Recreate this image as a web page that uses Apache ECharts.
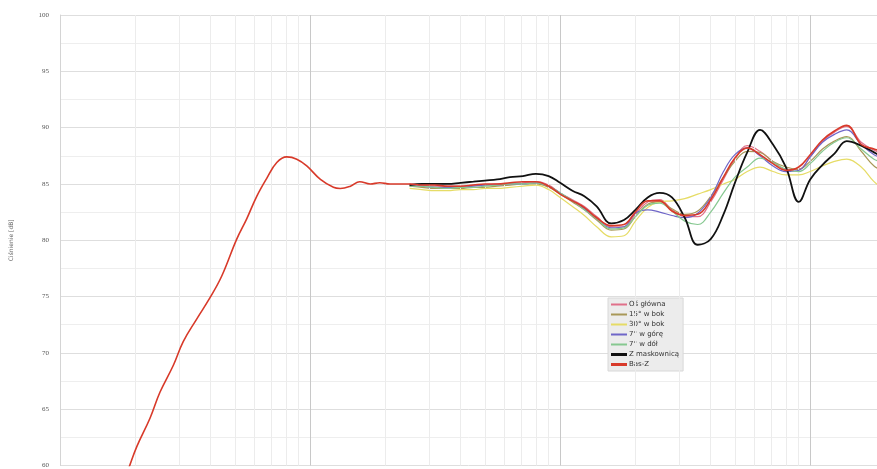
<!DOCTYPE html>
<html>
<head>
<meta charset="utf-8">
<script src="https://cdn.jsdelivr.net/npm/echarts@6/dist/echarts.min.js"></script>
<style>
  html, body { margin: 0; padding: 0; background: #ffffff; }
  #chart { width: 877px; height: 469px; }
</style>
</head>
<body>
<div id="chart"></div>
<script>
// Frequency response measurements (Hz -> dB SPL)

// Bass-extended response: near-field low end merged with the main axis
const bassFreq = [17, 19, 20.3, 22.9, 25.1, 28.4, 31.1, 35.2, 39.8, 44.3, 50.9, 55.8, 61.2, 67.1, 73.6, 80.7, 88.5, 97, 110, 124, 132, 145, 158, 174, 190, 209, 230];
const bassLow  = [57.0, 60.0, 61.7, 64.2, 66.5, 68.9, 71.0, 73.0, 74.9, 76.8, 80.1, 81.9, 83.9, 85.5, 86.9, 87.4, 87.2, 86.6, 85.4, 84.7, 84.6, 84.8, 85.2, 85.0, 85.1, 85.0, 85.0];

// Shared 1/6-octave grid for the gated measurements
const hiFreq = [250, 280, 315, 355, 400, 450, 500, 560, 630, 710, 800, 900, 1000, 1120, 1250, 1400, 1600, 1800, 2000, 2240, 2500, 2800, 3150, 3550, 4000, 4500, 5000, 5600, 6300, 7100, 8000, 9000, 10000, 11200, 12500, 14000, 16000, 18000, 20000];

const osGlowna   = [85.0, 84.9, 84.8, 84.8, 84.8, 84.9, 84.9, 85.0, 85.0, 85.1, 85.2, 84.9, 84.2, 83.6, 83.0, 82.1, 81.2, 81.2, 82.3, 83.4, 83.6, 82.7, 82.1, 82.1, 83.4, 85.4, 87.2, 88.4, 87.9, 87.0, 86.3, 86.3, 87.4, 88.8, 89.6, 90.1, 88.7, 88.0, 87.6];
const bok15      = [84.8, 84.7, 84.6, 84.6, 84.6, 84.7, 84.7, 84.8, 84.9, 85.0, 85.0, 84.7, 84.1, 83.4, 82.7, 81.8, 80.9, 81.0, 82.1, 83.2, 83.4, 82.8, 82.3, 82.6, 83.9, 85.6, 87.0, 87.9, 87.8, 87.0, 86.5, 86.3, 87.0, 88.1, 88.8, 89.2, 87.9, 86.6, 86.1];
const bok30      = [84.6, 84.5, 84.4, 84.4, 84.5, 84.5, 84.6, 84.6, 84.7, 84.8, 84.9, 84.5, 83.8, 83.0, 82.2, 81.2, 80.3, 80.4, 81.7, 82.9, 83.4, 83.5, 83.7, 84.1, 84.5, 85.0, 85.4, 86.1, 86.5, 86.1, 85.8, 85.8, 86.1, 86.6, 87.0, 87.2, 86.5, 85.2, 84.5];
const gora7      = [84.9, 84.8, 84.7, 84.7, 84.7, 84.8, 84.9, 84.9, 85.0, 85.0, 85.1, 84.8, 84.2, 83.5, 82.8, 81.9, 81.1, 81.2, 82.4, 82.7, 82.5, 82.2, 82.0, 82.4, 83.8, 86.1, 87.6, 88.2, 87.5, 86.6, 86.1, 86.2, 87.4, 88.7, 89.4, 89.8, 88.5, 87.6, 87.2];
const dol7       = [84.8, 84.8, 84.7, 84.6, 84.7, 84.7, 84.8, 84.9, 85.0, 85.0, 85.1, 84.8, 84.2, 83.5, 82.7, 81.9, 81.0, 81.1, 82.1, 83.1, 83.3, 82.6, 81.7, 81.4, 82.5, 84.2, 85.6, 86.5, 87.3, 86.9, 86.3, 86.1, 86.8, 87.9, 88.7, 89.1, 88.1, 87.2, 86.8];
const maskownica = [84.9, 85.0, 85.0, 85.0, 85.1, 85.2, 85.3, 85.4, 85.6, 85.7, 85.9, 85.7, 85.1, 84.4, 83.9, 83.0, 81.5, 81.8, 82.7, 83.8, 84.2, 83.8, 82.0, 79.6, 80.1, 82.3, 85.1, 87.8, 89.8, 88.5, 86.5, 83.4, 85.4, 86.7, 87.7, 88.8, 88.4, 87.8, 87.3];
const bassHigh   = [85.0, 84.9, 84.9, 84.8, 84.8, 84.9, 85.0, 85.0, 85.1, 85.2, 85.2, 84.8, 84.1, 83.5, 82.9, 82.0, 81.3, 81.4, 82.5, 83.5, 83.5, 82.6, 82.2, 82.3, 83.6, 85.6, 87.3, 88.2, 87.6, 86.8, 86.2, 86.5, 87.6, 88.9, 89.7, 90.2, 88.5, 88.1, 87.8];

const seriesNames = ['Oś główna', '15° w bok', '30° w bok', '7° w górę', '7° w dół', 'Z maskownicą', 'Bas-Z'];
const seriesColors = ['#e0708a', '#a89858', '#e6dc66', '#6f66c8', '#86c890', '#111111', '#d83a2a'];
const seriesWidths = [1.2, 1.2, 1.2, 1.2, 1.2, 1.8, 1.6];

// Gridline positions on the log frequency axis
const decadeFreq = [100, 1000, 10000];
const minorFreq = [20, 30, 40, 50, 60, 70, 80, 90, 200, 300, 400, 500, 600, 700, 800, 900, 2000, 3000, 4000, 5000, 6000, 7000, 8000, 9000];
const yTicks = { min: 60, max: 100, step: 5 };
const freqRange = { min: 10, max: 18500 };

function pairs(xs, ys) { return xs.map((f, i) => [f, ys[i]]); }

const bassCombined = pairs(bassFreq, bassLow).concat(pairs(hiFreq, bassHigh));
const seriesData = [
  pairs(hiFreq, osGlowna),
  pairs(hiFreq, bok15),
  pairs(hiFreq, bok30),
  pairs(hiFreq, gora7),
  pairs(hiFreq, dol7),
  pairs(hiFreq, maskownica),
  bassCombined
];

// Legend swatch: a plain horizontal bar, thicker for the heavy traces
function barIcon(h) {
  const top = (7 - h) / 2;
  return 'path://M0,' + top + 'L16,' + top + 'L16,' + (top + h) + 'L0,' + (top + h) + 'Z';
}

const chart = echarts.init(document.getElementById('chart'), null, { renderer: 'canvas' });

const series = [{
  name: 'grid',
  type: 'line',
  data: [],
  z: 1,
  silent: true,
  markLine: {
    silent: true,
    animation: false,
    symbol: ['none', 'none'],
    label: { show: false },
    data: minorFreq.map(f => ({ xAxis: f, lineStyle: { color: '#ececec', width: 1, type: 'solid' } }))
      .concat(decadeFreq.map(f => ({ xAxis: f, lineStyle: { color: '#c8c8c8', width: 1, type: 'solid' } })))
  }
}];

seriesNames.forEach((name, i) => {
  series.push({
    name: name,
    type: 'line',
    data: seriesData[i],
    smooth: 0.4,
    showSymbol: false,
    symbol: 'none',
    z: 3 + i,
    lineStyle: { color: seriesColors[i], width: seriesWidths[i] },
    itemStyle: { color: seriesColors[i] },
    animation: false
  });
});

chart.setOption({
  animation: false,
  backgroundColor: '#ffffff',
  textStyle: { fontFamily: 'DejaVu Sans' },
  grid: { left: 60, top: 15, right: 0, height: 452, containLabel: false },
  xAxis: {
    type: 'log',
    logBase: 10,
    min: freqRange.min,
    max: freqRange.max,
    axisLine: { show: false },
    axisTick: { show: false },
    axisLabel: { show: false },
    splitLine: { show: false }
  },
  yAxis: {
    type: 'value',
    min: yTicks.min,
    max: yTicks.max,
    interval: yTicks.step,
    name: 'Ciśnienie [dB]',
    nameLocation: 'middle',
    nameGap: 46,
    nameRotate: 90,
    nameTextStyle: { fontSize: 6, color: '#666666', fontFamily: 'DejaVu Sans' },
    axisLine: { show: true, lineStyle: { color: '#d4d4d4', width: 1 } },
    axisTick: { show: false },
    axisLabel: { fontSize: 7, color: '#555555', margin: 11, fontFamily: 'Liberation Serif' },
    splitLine: { show: true, lineStyle: { color: '#dedede', width: 1 } },
    minorTick: { show: false, splitNumber: 2 },
    minorSplitLine: { show: true, lineStyle: { color: '#eeeeee', width: 1 } }
  },
  legend: {
    data: seriesNames.map((n, i) => ({ name: n, icon: barIcon(i >= 5 ? 3 : 2) })),
    orient: 'vertical',
    left: 608,
    top: 298,
    padding: [3, 4, 3, 3],
    itemWidth: 16,
    itemHeight: 7,
    itemGap: 3,
    backgroundColor: '#ececec',
    borderColor: '#d8d8d8',
    borderWidth: 1,
    textStyle: { fontSize: 7, color: '#333333', fontFamily: 'DejaVu Sans', padding: [0, 0, 0, -3] },
    selectedMode: false
  },
  series: series
});
</script>
</body>
</html>
